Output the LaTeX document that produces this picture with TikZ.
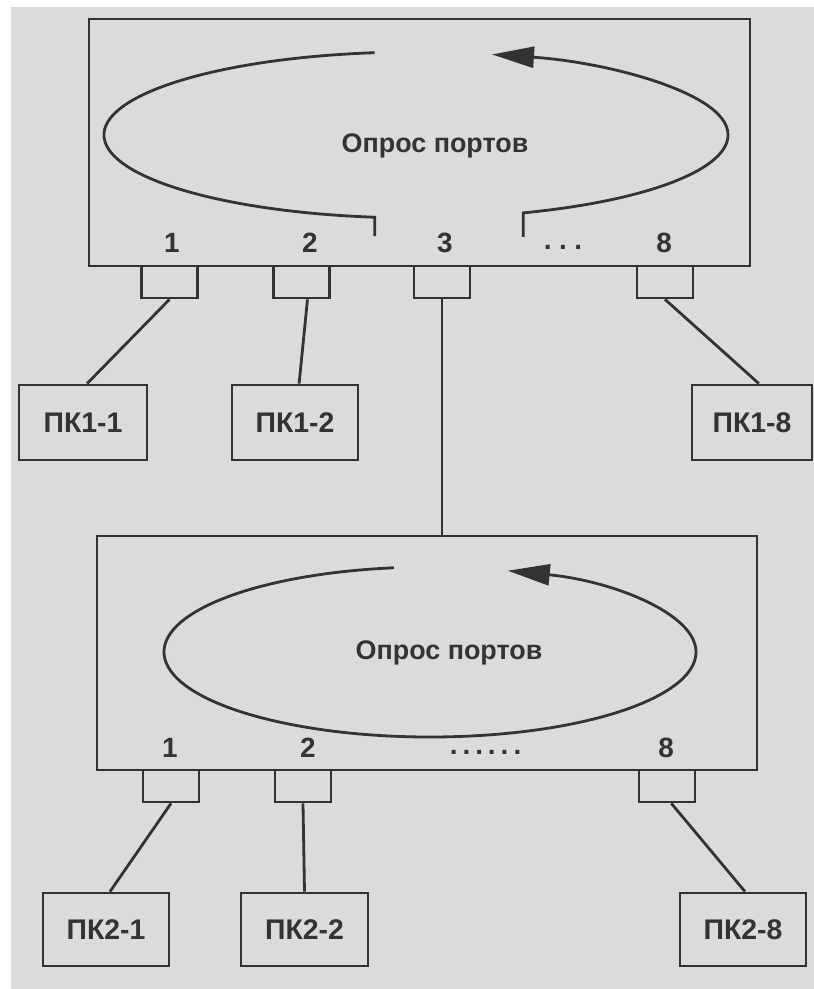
\documentclass[tikz,border=0pt]{standalone}
\usepackage{fontspec}
\setmainfont{Liberation Sans}
\usetikzlibrary{arrows.meta}
\definecolor{ink}{gray}{0.2}
\definecolor{paper}{gray}{0.86}
\begin{document}
\begin{tikzpicture}[color=ink,line width=2.8bp,
  box/.style={draw,rectangle,inner sep=0pt},
  port/.style={box,minimum width=56bp,minimum height=32bp},
  pc/.style={box,minimum height=75bp,font=\fontsize{28.5}{30}\selectfont\bfseries},
  num/.style={anchor=base,font=\fontsize{28}{30}\selectfont\bfseries},
  poll/.style={-{Triangle[length=42bp,width=21bp]}}]
  \useasboundingbox (0,0) rectangle (814bp,989bp);
  \fill[white] (0,0) rectangle (814bp,989bp);
  \fill[paper] (11bp,0) rectangle (814bp,982bp);
  \node (Switch1) at (419.5bp,846.5bp) [box,minimum width=661bp,minimum height=247bp] {};
  \node (Switch2) at (427bp,336bp) [box,minimum width=660bp,minimum height=234bp] {};
  \node (Port11) at (169.5bp,707bp) [port] {};
  \node (Port12) at (301.5bp,707bp) [port] {};
  \node (Port13) at (442bp,707bp) [port] {};
  \node (Port18) at (665bp,707bp) [port] {};
  \node (Port21) at (171bp,203bp) [port] {};
  \node (Port22) at (303bp,203bp) [port] {};
  \node (Port28) at (667bp,203bp) [port] {};
  \node (PK11) at (83bp,566.5bp) [pc,minimum width=128bp] {ПК1-1};
  \node (PK12) at (295bp,566.5bp) [pc,minimum width=126bp] {ПК1-2};
  \node (PK18) at (752bp,566.5bp) [pc,minimum width=120bp] {ПК1-8};
  \node (PK21) at (106bp,59.5bp) [pc,minimum width=126bp,minimum height=73bp] {ПК2-1};
  \node (PK22) at (304.5bp,59.5bp) [pc,minimum width=127bp,minimum height=73bp] {ПК2-2};
  \node (PK28) at (743bp,59.5bp) [pc,minimum width=126bp,minimum height=73bp] {ПК2-8};
  \node (Num11) at (172bp,736bp) [num] {1};
  \node (Num12) at (310bp,736bp) [num] {2};
  \node (Num13) at (445bp,736bp) [num] {3};
  \node (Dots1) at (563bp,739bp) [num] {.\hspace{7.5bp}.\hspace{7.5bp}.};
  \node (Num18) at (664bp,736bp) [num] {8};
  \node (Num21) at (170bp,231bp) [num] {1};
  \node (Num22) at (308bp,231bp) [num] {2};
  \node (Dots2) at (485.5bp,234bp) [num] {.\hspace{5bp}.\hspace{5bp}.\hspace{5bp}.\hspace{5bp}.\hspace{5bp}.};
  \node (Num28) at (666bp,231bp) [num] {8};
  \node (Poll1) at (435bp,836bp) [num,font=\fontsize{27}{30}\selectfont\bfseries] {Опрос портов};
  \node (Poll2) at (449bp,329bp) [num,font=\fontsize{27}{30}\selectfont\bfseries] {Опрос портов};
  \draw (374.7bp,936.3bp) arc[start angle=97.6,end angle=262.4,x radius=312bp,y radius=83bp] -- ++(0,-19bp);
  \draw [poll] (523.2bp,752bp) -- (523.2bp,776.1bp) arc[start angle=290.1,end angle=435.9,x radius=312bp,y radius=83bp];
  \draw [poll] (393.9bp,421.2bp) arc[start angle=97.8,end angle=433,x radius=266bp,y radius=85bp];
  \draw (Port11.south) -- (PK11.84);
  \draw (Port12.-71) -- (PK12.84);
  \draw (Port13.south) -- (Port13.south |- Switch2.north);
  \draw (Port18.south) -- (PK18.80);
  \draw (Port21.south) -- (PK21.84);
  \draw (Port22.south) -- (PK22.north);
  \draw (Port28.-76) -- (PK28.87);
\end{tikzpicture}
\end{document}
